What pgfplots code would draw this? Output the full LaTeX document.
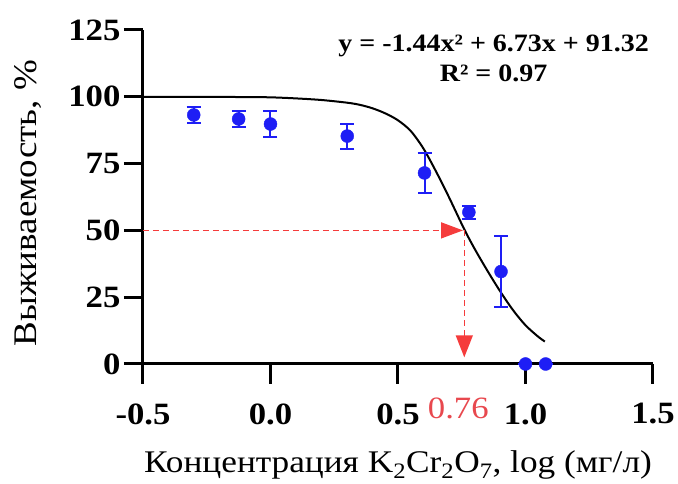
\documentclass[border=0pt]{standalone}
\usepackage{fontspec}
\setmainfont[FakeStretch=1.12]{Liberation Serif}
\usepackage{pgfplots}
\pgfplotsset{compat=1.18}
\usetikzlibrary{arrows.meta}
\definecolor{dotblue}{RGB}{30,30,245}
\definecolor{lblred}{RGB}{232,72,78}
\definecolor{arrred}{RGB}{245,60,60}
\begin{document}
\begin{tikzpicture}
\begin{axis}[
  at={(0,0)}, anchor=south west,
  scale only axis, width=510pt, height=334pt,
  xmin=-0.5, xmax=1.5, ymin=0, ymax=125,
  axis x line*=bottom, axis y line*=left,
  axis line style={line width=3pt, -},
  xtick={-0.5,0,0.5,1,1.5}, ytick={0,25,50,75,100,125},
  tick align=outside, tickwidth=19pt,
  every tick/.style={draw=black, line width=3pt},
  /pgf/number format/assume math mode=true,
  xticklabel style={/pgf/number format/fixed, /pgf/number format/fixed zerofill, /pgf/number format/precision=1, yshift=-17pt},
  ticklabel style={font=\fontsize{31}{34}\selectfont\bfseries},
  xlabel={Концентрация K\textsubscript{2}Cr\textsubscript{2}O\textsubscript{7}, log (мг/л)},
  ylabel={Выживаемость, \%},
  label style={font=\fontsize{31.5}{35}\selectfont},
  xlabel style={at={(axis description cs:0.5,-0.326)}, anchor=base},
  ylabel style={at={(axis description cs:-0.2255,0.482)}, anchor=center, font=\fontsize{33}{36}\selectfont},
  clip=false,
]
% tick marks
\pgfplotsinvokeforeach{-0.5,0,0.5,1,1.5}{\draw[line width=3pt, black] (axis cs:#1,0) -- (axis cs:#1,-7.5);}
\pgfplotsinvokeforeach{0,25,50,75,100,125}{\draw[line width=3pt, black] (axis cs:-0.5,#1) -- (axis cs:-0.5706,#1);}
% fitted curve
\addplot[black, line width=2pt, smooth] coordinates {
(-0.5,100) (-0.3,100) (-0.1,99.9) (0.0,99.8) (0.1,99.4) (0.2,98.8) (0.3,97.8)
(0.35,97.0) (0.4,95.7) (0.45,93.8) (0.5,91.2) (0.55,87.2) (0.6,80.6) (0.65,71.9)
(0.7,62.4) (0.76,50.4) (0.8,43.2) (0.85,35.0) (0.9,27.3) (0.95,20.3) (1.0,14.5)
(1.05,10.2) (1.076,8.4)
};
% guide arrows
\addplot[arrred, line width=1.5pt, dash pattern=on 6pt off 4pt, -{Triangle[length=22pt,width=16pt]}] coordinates {(-0.5,50) (0.755,50)};
\addplot[arrred, line width=1.5pt, dash pattern=on 6pt off 4pt, -{Triangle[length=22pt,width=17pt]}] coordinates {(0.76,50) (0.76,2.5)};
% data with error bars
\addplot[dotblue, only marks, mark=*, mark size=6.5pt,
  error bars/.cd, y dir=both, y explicit,
  error bar style={line width=2pt, dotblue},
  error mark options={rotate=90, mark size=7pt, line width=2pt, dotblue}]
coordinates {
(-0.301,93.2) +- (0,3)
(-0.125,91.7) +- (0,3)
(0.0,89.8) +- (0,4.8)
(0.301,85.3) +- (0,4.7)
(0.604,71.5) +- (0,7.4)
(0.778,56.8) +- (0,2.5)
(0.904,34.6) +- (0,13.2)
(1.0,0) +- (0,0)
(1.079,0) +- (0,0)
};
\node[font=\fontsize{31}{34}\selectfont, text=lblred, anchor=north, inner sep=0pt]
  at ([xshift=-6pt, yshift=-34pt]axis cs:0.76,0) {0.76};
\node[font=\fontsize{25}{30}\selectfont\bfseries, align=center] at (axis cs:0.875,114.5)
  {y = -1.44x² + 6.73x + 91.32\\R² = 0.97};
\end{axis}
\pgfresetboundingbox
\path[use as bounding box] (-143pt,-120pt) rectangle (535pt,364pt);
\end{tikzpicture}
\end{document}
